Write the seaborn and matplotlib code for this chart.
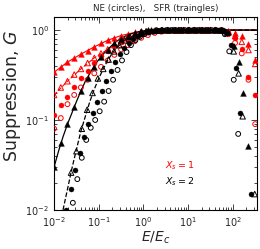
import numpy as np
import matplotlib
matplotlib.use('Agg')
import matplotlib.pyplot as plt
import seaborn as sns

# log10(E/Ec) positions and suppression values
# NE (circles), Xs = 2, filled
ne2_fill_lx = [-1.73, -1.63, -1.53, -1.43, -1.33, -1.23, -1.13, -1.03, -0.93, -0.83,
               -0.73, -0.63, -0.53, -0.43, -0.33, -0.23, -0.13, -0.03, 0.07, 0.17,
               0.27, 0.37, 0.47, 0.57, 0.67, 0.77, 0.87, 0.97, 1.07, 1.17,
               1.27, 1.37, 1.47, 1.57, 1.67, 1.77, 1.87, 1.97, 2.07, 2.17, 2.40]
ne2_fill_g = [0.010, 0.017, 0.028, 0.043, 0.064, 0.090, 0.12, 0.16, 0.21, 0.27,
              0.35, 0.44, 0.54, 0.63, 0.72, 0.80, 0.86, 0.91, 0.95, 0.97,
              0.99, 1.0, 1.0, 1.0, 1.0, 1.0, 1.0, 1.0, 1.0, 1.0,
              1.0, 1.0, 1.0, 1.0, 1.0, 0.99, 0.93, 0.68, 0.38, 0.12, 0.015]
# NE (circles), Xs = 2, open
ne2_open_lx = [-1.58, -1.48, -1.38, -1.28, -1.18, -1.08, -0.98, -0.88, -0.78, -0.68,
               -0.58, -0.48, -0.38, -0.28, -0.18, -0.08, 0.02, 0.12, 0.22, 0.32,
               0.42, 0.52, 0.62, 0.72, 0.82, 0.92, 1.02, 1.12, 1.22, 1.32,
               1.42, 1.52, 1.62, 1.72, 1.82, 1.92, 2.02, 2.12]
ne2_open_g = [0.012, 0.022, 0.038, 0.060, 0.082, 0.10, 0.125, 0.16, 0.21, 0.28,
              0.36, 0.46, 0.57, 0.68, 0.77, 0.84, 0.90, 0.94, 0.96, 0.98,
              0.99, 1.0, 1.0, 1.0, 1.0, 1.0, 1.0, 1.0, 1.0, 1.0,
              1.0, 1.0, 1.0, 0.99, 0.90, 0.58, 0.28, 0.07]
# SFR (triangles), Xs = 2, filled
sfr2_fill_lx = [-2.0, -1.85, -1.7, -1.55, -1.4, -1.25, -1.1, -0.95, -0.8, -0.65,
                -0.5, -0.35, -0.2, -0.05, 0.1, 0.25, 0.4, 0.55, 0.7, 0.85,
                1.0, 1.15, 1.3, 1.45, 1.6, 1.75, 1.9, 2.02, 2.13, 2.22, 2.34]
sfr2_fill_g = [0.030, 0.055, 0.09, 0.14, 0.21, 0.29, 0.39, 0.50, 0.60, 0.71,
               0.80, 0.87, 0.93, 0.97, 0.99, 1.0, 1.0, 1.0, 1.0, 1.0,
               1.0, 1.0, 1.0, 1.0, 1.0, 0.99, 0.95, 0.66, 0.44, 0.20, 0.052]
# SFR (triangles), Xs = 2, open
sfr2_open_lx = [-1.62, -1.50, -1.38, -1.26, -1.14, -1.02, -0.90, -0.78, -0.66, -0.54,
                -0.42, -0.30, -0.18, -0.06, 0.06, 0.18, 0.30, 0.42, 0.54, 0.66,
                0.78, 0.90, 1.02, 1.14, 1.26, 1.38, 1.50, 1.62, 1.74, 1.86,
                2.02, 2.13, 2.22, 2.49]
sfr2_open_g = [0.026, 0.045, 0.08, 0.13, 0.20, 0.29, 0.37, 0.47, 0.58, 0.68,
               0.77, 0.84, 0.90, 0.94, 0.97, 0.985, 0.995, 1.0, 1.0, 1.0,
               1.0, 1.0, 1.0, 1.0, 1.0, 1.0, 1.0, 1.0, 0.99, 0.94,
               0.58, 0.33, 0.11, 0.015]

# Xs = 1 (red)
red_lx = [-2.0, -1.85, -1.7, -1.55, -1.4, -1.25, -1.1, -0.95, -0.8, -0.65,
          -0.5, -0.35, -0.2, -0.05, 0.1, 0.25, 0.4, 0.55, 0.7, 0.85,
          1.0, 1.15, 1.3, 1.45, 1.6, 1.75, 1.9, 2.05, 2.2, 2.35, 2.5]
sfr1_fill_g = [0.34, 0.39, 0.44, 0.49, 0.54, 0.59, 0.65, 0.71, 0.77, 0.82,
               0.87, 0.91, 0.94, 0.97, 0.99, 1.0, 1.0, 1.0, 1.0, 1.0,
               1.0, 1.0, 1.0, 1.0, 1.0, 1.0, 0.98, 0.93, 0.85, 0.70, 0.47]
sfr1_open_g = [0.19, 0.23, 0.27, 0.32, 0.37, 0.43, 0.49, 0.55, 0.61, 0.68,
               0.75, 0.81, 0.87, 0.92, 0.96, 0.98, 0.99, 1.0, 1.0, 1.0,
               1.0, 1.0, 1.0, 1.0, 1.0, 1.0, 0.96, 0.86, 0.74, 0.60, 0.42]
ne1_fill_g = [0.115, 0.145, 0.18, 0.23, 0.29, 0.35, 0.43, 0.51, 0.59, 0.66,
              0.73, 0.80, 0.86, 0.91, 0.95, 0.97, 0.99, 1.0, 1.0, 1.0,
              1.0, 1.0, 1.0, 1.0, 1.0, 1.0, 0.95, 0.82, 0.62, 0.30, 0.19]
ne1_open_g = [0.08, 0.105, 0.15, 0.19, 0.23, 0.28, 0.33, 0.39, 0.46, 0.53,
              0.61, 0.68, 0.75, 0.82, 0.88, 0.93, 0.96, 0.98, 0.99, 1.0,
              1.0, 1.0, 1.0, 1.0, 1.0, 1.0, 0.90, 0.72, 0.55, 0.28, 0.09]

# analytic curves (lines)
line2_lx = [-2.0, -1.9, -1.8, -1.7, -1.6, -1.5, -1.4, -1.3, -1.2, -1.1, -1.0, -0.9,
            -0.8, -0.7, -0.6, -0.5, -0.4, -0.3, -0.2, -0.1, 0.0, 0.2, 0.5, 2.6]
line2_g = [0.030, 0.045, 0.065, 0.09, 0.12, 0.16, 0.21, 0.27, 0.33, 0.40, 0.47, 0.54,
           0.61, 0.68, 0.75, 0.81, 0.86, 0.90, 0.93, 0.96, 0.98, 0.995, 1.0, 1.0]
dash2_lx = [-1.8, -1.7, -1.6, -1.5, -1.4, -1.3, -1.2, -1.1, -1.0, -0.9, -0.8, -0.7,
            -0.6, -0.5, -0.4, -0.3, -0.2, -0.1, 0.0, 0.1, 0.3, 0.6, 2.6]
dash2_g = [0.010, 0.017, 0.029, 0.047, 0.075, 0.11, 0.16, 0.22, 0.29, 0.37, 0.46, 0.55,
           0.63, 0.71, 0.78, 0.84, 0.89, 0.93, 0.96, 0.98, 0.995, 1.0, 1.0]
line1_lx = [-2.0, -1.7, -1.4, -1.1, -0.8, -0.5, -0.2, 0.1, 0.4, 2.6]
line1_g = [0.34, 0.44, 0.54, 0.65, 0.77, 0.87, 0.94, 0.99, 1.0, 1.0]
dash1_lx = [-2.0, -1.7, -1.4, -1.1, -0.8, -0.5, -0.2, 0.1, 0.4, 0.7, 2.6]
dash1_g = [0.19, 0.27, 0.37, 0.49, 0.61, 0.75, 0.87, 0.96, 0.99, 1.0, 1.0]

sns.set_style('ticks')
plt.rcParams['font.family'] = ['DejaVu Sans']
plt.rcParams['mathtext.fontset'] = 'dejavusans'

fig = plt.figure(figsize=(2.6, 2.49), dpi=100)
ax = fig.add_axes([0.208, 0.157, 0.781, 0.775])
ax.set_xscale('log')
ax.set_yscale('log')

E = lambda lx: 10 ** np.array(lx)

# lines
sns.lineplot(x=E(line1_lx), y=line1_g, color='red', lw=0.8, estimator=None, sort=False, ax=ax)
sns.lineplot(x=E(dash1_lx), y=dash1_g, color='red', lw=0.8, ls='--', estimator=None, sort=False, ax=ax)
sns.lineplot(x=E(line2_lx), y=line2_g, color='black', lw=0.9, estimator=None, sort=False, ax=ax)
sns.lineplot(x=E(dash2_lx), y=dash2_g, color='black', lw=0.9, ls='--', estimator=None, sort=False, ax=ax)

def pts(lx, g, col, mk, filled, s):
    if filled:
        sns.scatterplot(x=E(lx), y=g, marker=mk, s=s, color=col, edgecolor=col,
                        linewidth=0.3, ax=ax, zorder=3)
    else:
        sns.scatterplot(x=E(lx), y=g, marker=mk, s=s, color=col, facecolors='none',
                        edgecolor=col, linewidth=0.7, ax=ax, zorder=3)

pts(red_lx, ne1_open_g, 'red', 'o', False, 12)
pts(red_lx, ne1_fill_g, 'red', 'o', True, 13)
pts(red_lx, sfr1_open_g, 'red', '^', False, 16)
pts(red_lx, sfr1_fill_g, 'red', '^', True, 17)
pts(ne2_open_lx, ne2_open_g, 'black', 'o', False, 12)
pts(ne2_fill_lx, ne2_fill_g, 'black', 'o', True, 13)
pts(sfr2_open_lx, sfr2_open_g, 'black', '^', False, 16)
pts(sfr2_fill_lx, sfr2_fill_g, 'black', '^', True, 17)

ax.set_xlim(1e-2, 3.5e2)
ax.set_ylim(1e-2, 1.4)
ax.tick_params(which='both', direction='in', top=True, right=True, labelsize=7, width=0.6)
ax.tick_params(which='major', length=4)
ax.tick_params(which='minor', length=2)
for sp in ax.spines.values():
    sp.set_linewidth(0.8)
    sp.set_color('black')

ax.set_title('NE (circles),   SFR (traingles)', fontsize=6.3, pad=4)
ax.set_xlabel('$E/E_c$', fontsize=10, labelpad=1)
ax.set_ylabel('Suppression, $G$', fontsize=12.5)
ax.yaxis.set_label_coords(-0.152, 0.59)
ax.text(0.547, 0.228, '$X_s = 1$', color='red', fontsize=6.8, transform=ax.transAxes, va='center')
ax.text(0.547, 0.145, '$X_s = 2$', color='black', fontsize=6.8, transform=ax.transAxes, va='center')

fig.savefig('out.png', dpi=100)
